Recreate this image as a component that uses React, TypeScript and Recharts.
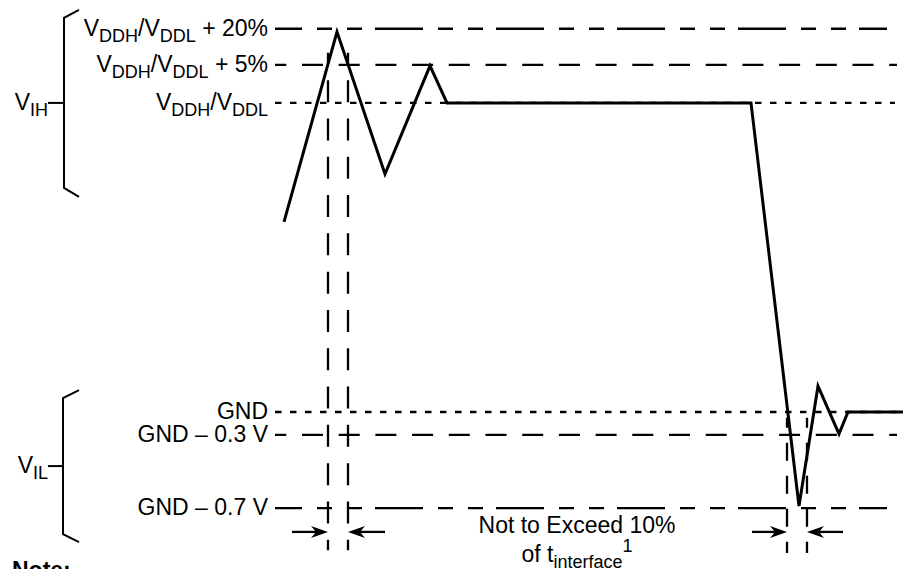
import React from 'react';
import { ComposedChart, Line, XAxis, YAxis, ReferenceLine, ReferenceDot } from 'recharts';

const FONT = '"Liberation Sans", Arial, Helvetica, sans-serif';
const MAIN_SIZE = 23;
const SMALL_SIZE = 18;

// time in arbitrary units, level scaled so GND = 0 and VDDH/VDDL = 100
const waveT = [284, 337, 385, 430, 447, 751, 799, 818, 839, 848, 903];
const waveV = [61.5, 123.0, 77.0, 112.0, 100, 100, -30.4, 8.4, -7.1, 0, 0];

type Part = [string, 'n' | 'sub' | 'sup'];

const levelValues = [124.0, 112.3, 100, 0, -7.4, -31.1];
const levelStartT = [275, 275, 275, 275, 275, 275];
const levelEndT = [887, 897, 895, 903, 897, 887];
const levelLabels: Part[][] = [
  [['V', 'n'], ['DDH', 'sub'], ['/V', 'n'], ['DDL', 'sub'], [' + 20%', 'n']],
  [['V', 'n'], ['DDH', 'sub'], ['/V', 'n'], ['DDL', 'sub'], [' + 5%', 'n']],
  [['V', 'n'], ['DDH', 'sub'], ['/V', 'n'], ['DDL', 'sub']],
  [['GND', 'n']],
  [['GND \u2013 0.3 V', 'n']],
  [['GND \u2013 0.7 V', 'n']],
];

// measurement windows (edges of the dashed verticals)
const windowLeftT = [328, 787];
const windowRightT = [348, 807];
const windowTopV = [116.2, -1.9];
const windowBottomV = [-44.7, -45.6];
const arrowTailLeftT = [292, 752];
const arrowTailRightT = [385, 843];
const arrowV = -38.8;

// braces for V_IH / V_IL
const braceIH = [
  { t: 79, v: 130.1 },
  { t: 64, v: 127.5 },
  { t: 64, v: 72.5 },
  { t: 79, v: 69.6 },
];
const braceIL = [
  { t: 79, v: 7.1 },
  { t: 63, v: 4.5 },
  { t: 63, v: -39.5 },
  { t: 79, v: -42.1 },
];
const braceTickV = [100, -17.5];
const braceNames: Part[][] = [
  [['V', 'n'], ['IH', 'sub']],
  [['V', 'n'], ['IL', 'sub']],
];

const waveData = waveT.map((t, i) => ({ t, v: waveV[i] }));

// line styles for each level
const levelDash = ['48 15 15 15 15 13', '21 15.7', '6.5 8.5', '6.5 8.5', '21 15.7', '48 15 15 15 15 13'];
const levelDashOffset = [21, 9.7, 0, 0, 9.7, 21];

function RichText({ x, y, parts, anchor = 'end', bold = false }: any) {
  let shift = 0;
  return (
    <text
      x={x}
      y={y}
      textAnchor={anchor}
      fontFamily={FONT}
      fontSize={MAIN_SIZE}
      fontWeight={bold ? 'bold' : 'normal'}
      fill="#000"
      style={{ whiteSpace: 'pre' }}
    >
      {parts.map(([s, kind]: Part, i: number) => {
        const target = kind === 'sub' ? 6 : kind === 'sup' ? -10 : 0;
        const dy = target - shift;
        shift = target;
        return (
          <tspan key={i} dy={dy} fontSize={kind === 'n' ? MAIN_SIZE : SMALL_SIZE}>
            {s}
          </tspan>
        );
      })}
    </text>
  );
}

const LevelLabel = (props: any) => {
  const { viewBox, parts, gap = 7 } = props;
  if (!viewBox) return null;
  return <RichText x={viewBox.x - gap} y={viewBox.y + 7} parts={parts} />;
};

const ArrowShape = (p: any) => {
  const { x1, y1, x2, y2 } = p;
  const dir = x2 > x1 ? 1 : -1;
  const len = 17;
  const half = 6;
  const notch = 12;
  return (
    <g>
      <line x1={x1} y1={y1} x2={x2 - dir * notch} y2={y2} stroke="#000" strokeWidth={2.3} />
      <polygon
        points={`${x2},${y2} ${x2 - dir * len},${y2 - half} ${x2 - dir * notch},${y2} ${x2 - dir * len},${y2 + half}`}
        fill="#000"
      />
    </g>
  );
};

export default function App() {
  return (
    <div
      style={{
        position: 'fixed',
        left: 0,
        top: 0,
        width: 903,
        height: 569,
        background: '#fff',
        overflow: 'hidden',
      }}
    >
      <ComposedChart width={903} height={569} margin={{ top: 0, right: 0, bottom: 0, left: 0 }}>
        <XAxis type="number" dataKey="t" domain={[0, 903]} hide allowDataOverflow />
        <YAxis type="number" dataKey="v" domain={[-50.8, 133.3]} hide allowDataOverflow />

        {levelValues.map((v, i) => (
          <ReferenceLine
            key={`lvl-${i}`}
            segment={[
              { x: levelStartT[i], y: v },
              { x: levelEndT[i], y: v },
            ]}
            stroke="#000"
            strokeWidth={2.3}
            strokeDasharray={levelDash[i]}
            strokeDashoffset={levelDashOffset[i]}
            ifOverflow="visible"
            label={<LevelLabel parts={levelLabels[i]} />}
          />
        ))}

        {windowLeftT.map((t, i) =>
          [t, windowRightT[i]].map((edge, j) => (
            <ReferenceLine
              key={`win-${i}-${j}`}
              segment={[
                { x: edge, y: windowTopV[i] },
                { x: edge, y: windowBottomV[i] },
              ]}
              stroke="#000"
              strokeWidth={2.3}
              strokeDasharray={i === 0 ? '22 16.3' : '18 15'}
              strokeDashoffset={i === 0 ? 11 : 8}
              ifOverflow="visible"
            />
          ))
        )}

        {windowLeftT.map((t, i) => (
          <ReferenceLine
            key={`arrL-${i}`}
            segment={[
              { x: arrowTailLeftT[i], y: arrowV },
              { x: t, y: arrowV },
            ]}
            ifOverflow="visible"
            shape={ArrowShape}
          />
        ))}
        {windowRightT.map((t, i) => (
          <ReferenceLine
            key={`arrR-${i}`}
            segment={[
              { x: arrowTailRightT[i], y: arrowV },
              { x: t, y: arrowV },
            ]}
            ifOverflow="visible"
            shape={ArrowShape}
          />
        ))}

        <Line
          data={braceIH}
          dataKey="v"
          type="linear"
          stroke="#000"
          strokeWidth={2}
          dot={false}
          activeDot={false}
          isAnimationActive={false}
        />
        <Line
          data={braceIL}
          dataKey="v"
          type="linear"
          stroke="#000"
          strokeWidth={2}
          dot={false}
          activeDot={false}
          isAnimationActive={false}
        />
        {braceTickV.map((v, i) => (
          <ReferenceLine
            key={`tick-${i}`}
            segment={[
              { x: 48, y: v },
              { x: 64, y: v },
            ]}
            stroke="#000"
            strokeWidth={2}
            ifOverflow="visible"
            label={<LevelLabel parts={braceNames[i]} gap={0} />}
          />
        ))}

        <ReferenceDot
          x={577}
          y={-39.2}
          ifOverflow="visible"
          shape={(p: any) => (
            <g>
              <RichText x={p.cx} y={p.cy} anchor="middle" parts={[['Not to Exceed 10%', 'n']]} />
              <RichText
                x={p.cx}
                y={p.cy + 29}
                anchor="middle"
                parts={[
                  ['of t', 'n'],
                  ['interface', 'sub'],
                  ['1', 'sup'],
                ]}
              />
            </g>
          )}
        />
        <ReferenceDot
          x={12}
          y={-53.7}
          ifOverflow="visible"
          shape={(p: any) => <RichText x={p.cx} y={p.cy} anchor="start" bold parts={[['Note:', 'n']]} />}
        />

        <Line
          data={waveData}
          dataKey="v"
          type="linear"
          stroke="#000"
          strokeWidth={3}
          dot={false}
          activeDot={false}
          isAnimationActive={false}
        />
      </ComposedChart>
    </div>
  );
}
